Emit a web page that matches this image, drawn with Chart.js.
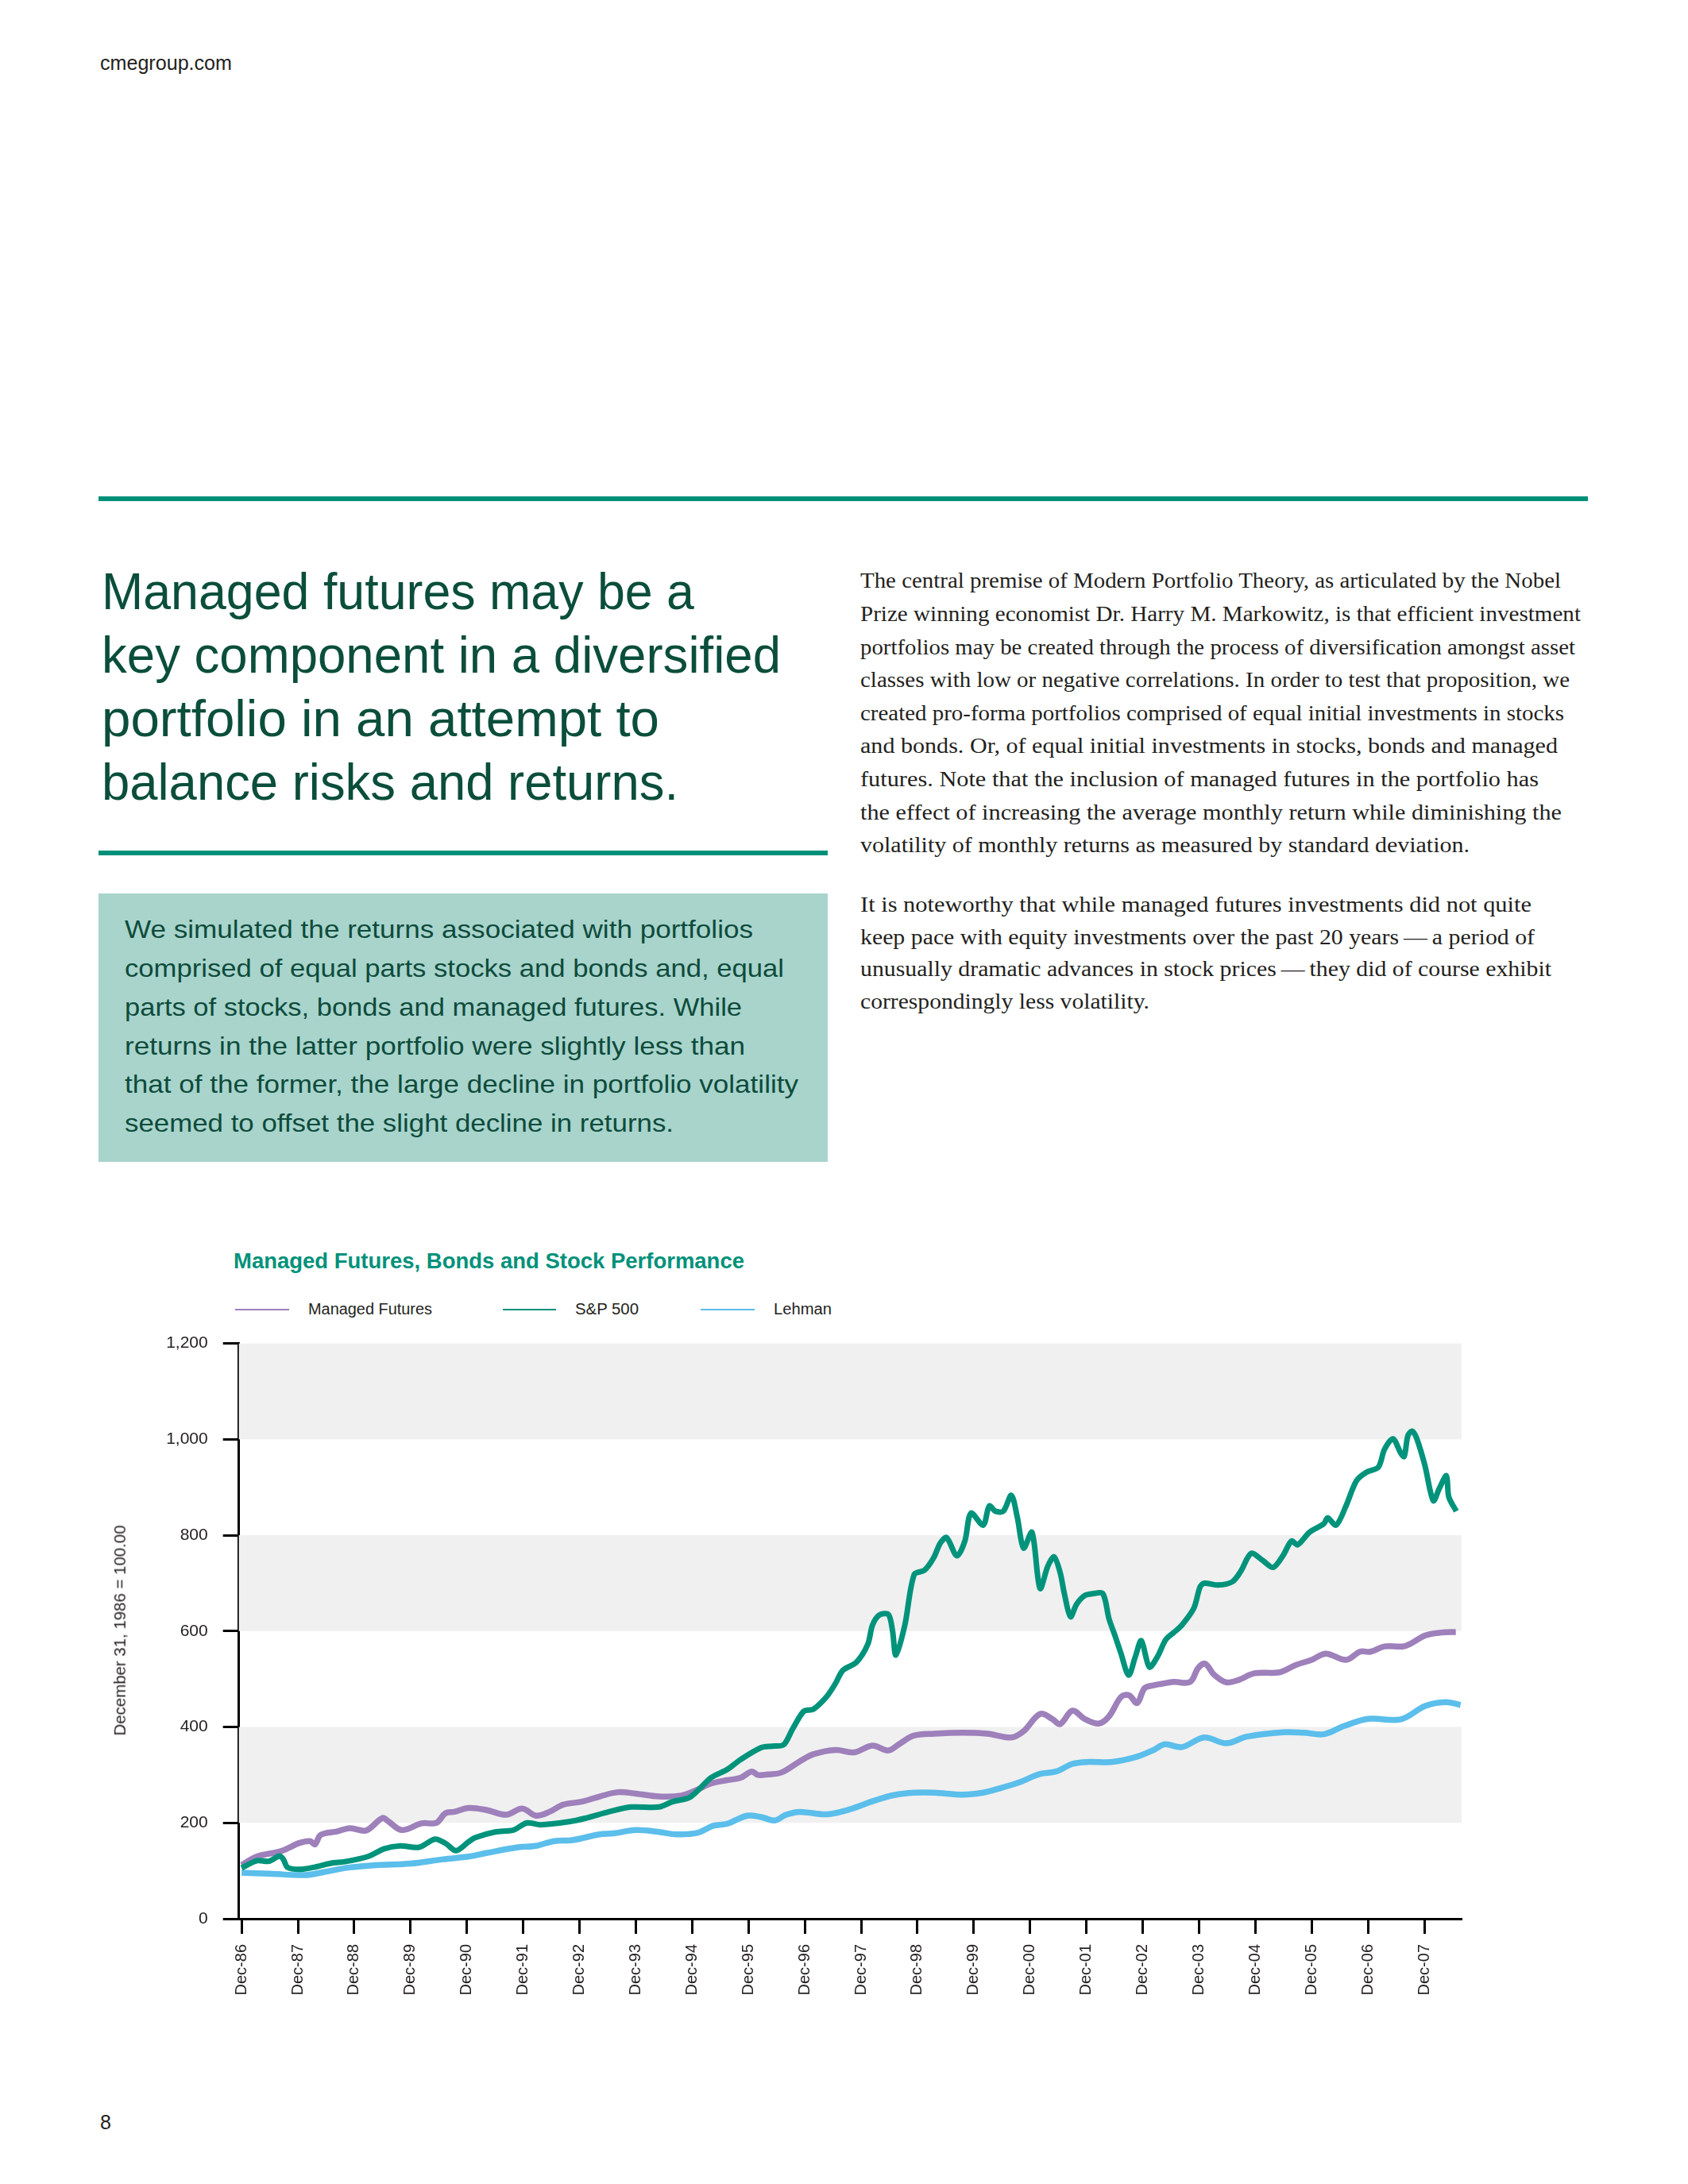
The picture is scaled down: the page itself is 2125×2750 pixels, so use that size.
<!DOCTYPE html>
<html>
<head>
<meta charset="utf-8">
<script src="https://cdn.jsdelivr.net/npm/chart.js@4.4.1/dist/chart.umd.min.js"></script>
<style>
  html, body { margin:0; padding:0; background:#fff; }
  body { width:2125px; height:2750px; position:relative; overflow:hidden; }
  .rule { position:absolute; background:#00907a; }
  #box { position:absolute; left:124px; top:1125px; width:918px; height:338px; background:#a8d4cc; }
  .leg { position:absolute; height:2px; }
  #chartWrap { position:absolute; left:0; top:1660px; width:1900px; height:900px; }
</style>
</head>
<body>
<div class="rule" style="left:124px; top:625px; width:1875px; height:6px;"></div>
<div class="rule" style="left:124px; top:1071px; width:918px; height:6px;"></div>
<div id="box"></div>
<div class="leg" style="left:296px; top:1648px; width:68px; background:#9b7fbd;"></div>
<div class="leg" style="left:633px; top:1648px; width:67px; background:#00917a;"></div>
<div class="leg" style="left:882px; top:1648px; width:68px; background:#5bbde8;"></div>
<div id="chartWrap"><canvas id="c" width="1900" height="900"></canvas></div>

<script>
// ---------------- DATA ----------------
// x positions: months after December 1986
const xTickLabels = ['Dec-86','Dec-87','Dec-88','Dec-89','Dec-90','Dec-91','Dec-92','Dec-93','Dec-94','Dec-95','Dec-96','Dec-97','Dec-98','Dec-99','Dec-00','Dec-01','Dec-02','Dec-03','Dec-04','Dec-05','Dec-06','Dec-07'];
const yTickLabels = ['0','200','400','600','800','1,000','1,200'];
const yTickValues = [0,200,400,600,800,1000,1200];

const seriesNames = ['Managed Futures','S&P 500','Lehman'];

const mfMonths = [0,3.3,8.4,12.3,14.6,15.6,16.9,20.3,23.1,26.5,30,31.3,34.1,38.4,41.5,43.4,45.3,48.4,52.1,56.4,59.8,62.7,65.6,68.5,72.4,76.3,80.2,84,88.9,93.7,96.6,100,103.4,106.3,108.7,110,112.1,115,118.9,121.8,126.6,130.5,134.4,137.8,140.2,143.2,147.6,153.7,158.9,164,166.6,170.1,172.7,174.4,177,179.6,182.6,184.8,187.4,189.1,190.8,192.4,194.3,196,198.6,202.1,203.8,205.3,207.2,209.8,212.4,215.8,221.1,224.5,228,231,235.3,238.3,240.5,243.5,247.9,252.2,255.6,258.7];
const mfValues = [112,130,141,158,162,155,175,182,189,184,210,203,185,199,200,220,223,231,227,217,230,215,223,238,244,255,264,261,255,257,267,282,289,294,307,300,301,305,328,343,352,347,361,351,365,382,386,388,386,378,391,427,417,406,434,417,407,422,463,466,450,481,487,490,494,494,523,532,509,493,498,512,514,529,540,553,540,557,557,568,569,591,597,598];

const spMonths = [0,3.3,5.8,8.1,8.9,9.8,12.3,15.2,19.1,22,27,30.4,33.8,37.8,41.2,43.5,45.7,48.3,49.7,54,57.9,60.8,63.7,69.5,73.4,78.2,83,88.9,91.8,95.6,100,103.4,106.3,110.7,113,115.5,117.4,119.8,121.8,124.7,126.6,128.1,131,133.4,134.4,135.8,137.8,138.7,139.4,141.3,143.3,145.5,147.4,148.9,150.2,152.4,154.1,155.4,158,159.3,160.6,162.3,164,165.3,166.6,168.4,170.1,171.8,173.1,174.4,175.3,176.6,177.9,179.6,181.3,183.5,184.8,186.1,187.3,189,190.4,191.7,193.4,195.1,196.9,198.6,200.3,202.9,204.2,205.1,208.1,211.1,212.9,215.1,217.6,219.8,221.9,223.7,225,227.5,230.6,231.4,233.2,235.3,237.5,239.6,242.2,243.5,245.3,247,247.7,248.5,249.4,250.4,252.1,253.9,255.2,256.7,257.2,258.8];
const spValues = [106,121,120,131,124,107,103,107,116,119,130,146,152,149,166,157,142,160,169,181,185,200,196,202,210,223,233,233,244,254,294,311,332,357,360,363,396,433,437,464,492,518,535,572,612,633,635,600,550,612,718,727,752,784,795,757,788,846,821,861,850,850,883,836,773,806,689,736,755,722,678,630,656,674,678,678,626,590,555,508,546,580,525,546,582,597,612,648,692,700,696,703,725,762,747,733,758,788,780,806,824,836,821,861,913,931,942,979,1001,971,964,1008,1017,1001,946,872,898,924,880,850];

const lbMonths = [0,6,13.5,17.4,23,28.7,36,42.9,48.6,52.1,58.9,62.7,66.6,70.5,76.3,79.2,84,88.9,92.7,97.1,100.5,103.4,107.7,110.7,113.6,116,118.9,124.7,129.5,134.4,139,143.3,147.6,153.7,158,161.5,165.8,170.1,173.5,177,180.5,185.6,190.8,194.3,196.7,200.3,205.1,209.8,214.2,221.9,226.3,230.6,234.9,240.1,247,252.2,256.5,259.7];
const lbValues = [96,94,91,97,107,112,115,124,130,137,149,152,162,164,176,178,185,181,176,179,194,198,215,212,205,217,223,218,228,245,258,263,263,259,263,272,285,302,307,323,327,327,338,352,364,358,378,366,380,389,388,385,402,417,416,444,452,446];

// ---------------- TEXT ----------------
const headlineLines = ['Managed futures may be a','key component in a diversified','portfolio in an attempt to','balance risks and returns.'];
const headlineWidths = [746,855,702,726];
const boxLines = ['We simulated the returns associated with portfolios','comprised of equal parts stocks and bonds and, equal','parts of stocks, bonds and managed futures. While','returns in the latter portfolio were slightly less than','that of the former, the large decline in portfolio volatility','seemed to offset the slight decline in returns.'];
const boxWidths = [791,830,777,781,848,691];
const para1 = ['The central premise of Modern Portfolio Theory, as articulated by the Nobel','Prize winning economist Dr. Harry M. Markowitz, is that efficient investment','portfolios may be created through the process of diversification amongst asset','classes with low or negative correlations. In order to test that proposition, we','created pro-forma portfolios comprised of equal initial investments in stocks','and bonds. Or, of equal initial investments in stocks, bonds and managed','futures. Note that the inclusion of managed futures in the portfolio has','the effect of increasing the average monthly return while diminishing the','volatility of monthly returns as measured by standard deviation.'];
const para1Widths = [882,907,900,893,886,878,854,883,767];
const para2 = ['It is noteworthy that while managed futures investments did not quite','keep pace with equity investments over the past 20 years\u2009\u2014\u2009a period of','unusually dramatic advances in stock prices\u2009\u2014\u2009they did of course exhibit','correspondingly less volatility.'];
const para2Widths = [845,849,870,364];

// ---------------- TEXT PLACEMENT ----------------
const SANS = 'Liberation Sans', SERIF = 'Liberation Serif';
function place(text, x, baseline, size, family, weight, color, target) {
  const asc = family === SERIF ? 0.8375 : 0.8465;
  const s = document.createElement('span');
  s.textContent = text;
  s.style.cssText = `position:absolute;left:${x}px;top:${baseline - asc*size}px;font-family:'${family}';font-weight:${weight};font-size:${size}px;line-height:${size}px;color:${color};white-space:nowrap;transform-origin:0 0;`;
  document.body.appendChild(s);
  if (target) {
    const w = s.getBoundingClientRect().width;
    s.style.transform = `scaleX(${target / w})`;
  }
  return s;
}

function layoutText() {
  place('cmegroup.com', 126, 88, 25, SANS, 400, '#231f20', 166);
  headlineLines.forEach((t, i) => place(t, 128, 766.7 + 80 * i, 64, SANS, 400, '#0a4e3b', headlineWidths[i]));
  boxLines.forEach((t, i) => place(t, 157, 1181.5 + 48.7 * i, 32, SANS, 400, '#0e4b3b', boxWidths[i]));
  para1.forEach((t, i) => place(t, 1083, 740.5 + 41.6 * i, 26.5, SERIF, 400, '#231f20', para1Widths[i]));
  para2.forEach((t, i) => place(t, 1083, 1148 + 40.8 * i, 26.5, SERIF, 400, '#231f20', para2Widths[i]));
  place('Managed Futures, Bonds and Stock Performance', 294, 1597.5, 27, SANS, 700, '#00917a', 643);
  place(seriesNames[0], 388, 1655, 20, SANS, 400, '#231f20', 156);
  place(seriesNames[1], 724, 1655, 20, SANS, 400, '#231f20', 80);
  place(seriesNames[2], 974, 1655, 20, SANS, 400, '#231f20', 73);
  place('8', 126, 2681, 25, SANS, 400, '#231f20', 0);
  // rotated y-axis title
  const t = document.createElement('span');
  t.textContent = 'December 31, 1986 = 100.00';
  t.style.cssText = `position:absolute;font-family:'${SANS}';font-size:20px;line-height:20px;color:#231f20;white-space:nowrap;`;
  document.body.appendChild(t);
  const w = t.getBoundingClientRect().width;
  t.style.left = (150.5 - w / 2) + 'px';
  t.style.top = (2052.8 - 10) + 'px';
  t.style.transformOrigin = '50% 50%';
  t.style.transform = `rotate(-90deg) scaleX(${265 / w})`;
}

// ---------------- CHART ----------------
const toPts = (xs, ys) => xs.map((x, i) => ({ x: x, y: ys[i] }));

const bandPlugin = {
  id: 'bands',
  beforeDatasetsDraw(chart) {
    const { ctx, chartArea, scales } = chart;
    const y = scales.y;
    ctx.save();
    ctx.fillStyle = '#f0f0f0';
    for (let i = 1; i < yTickValues.length; i += 2) {
      const top = y.getPixelForValue(yTickValues[i + 1] !== undefined ? yTickValues[i + 1] : yTickValues[i]);
      const bot = y.getPixelForValue(yTickValues[i]);
      ctx.fillRect(chartArea.left, top, chartArea.right - chartArea.left, bot - top);
    }
    ctx.restore();
  }
};

function drawChart() {
  Chart.defaults.font.family = SANS;
  Chart.defaults.color = '#231f20';
  new Chart(document.getElementById('c'), {
    type: 'line',
    data: {
      datasets: [
        { label: seriesNames[1], data: toPts(spMonths, spValues), borderColor: '#00937b', borderWidth: 7, tension: 0.3, pointRadius: 0, order: 0, borderJoinStyle: 'round' },
        { label: seriesNames[0], data: toPts(mfMonths, mfValues), borderColor: '#9e80bb', borderWidth: 7.5, tension: 0.35, pointRadius: 0, order: 1, borderJoinStyle: 'round' },
        { label: seriesNames[2], data: toPts(lbMonths, lbValues), borderColor: '#5bbeeb', borderWidth: 7.5, tension: 0.35, pointRadius: 0, order: 2, borderJoinStyle: 'round' }
      ]
    },
    options: {
      responsive: false,
      animation: false,
      devicePixelRatio: 1,
      layout: { padding: { left: 100.7, right: 60.2, top: 31.6, bottom: 0 } },
      plugins: { legend: { display: false }, tooltip: { enabled: false }, title: { display: false } },
      scales: {
        x: {
          type: 'linear',
          min: -0.58,
          max: 259.9,
          afterBuildTicks: (s) => { s.ticks = xTickLabels.map((_, i) => ({ value: i * 12 })); },
          afterFit: (s) => { s.height = 144; },
          ticks: {
            autoSkip: false,
            minRotation: 90,
            maxRotation: 90,
            padding: 13,
            font: { size: 20 },
            callback: (v) => xTickLabels[Math.round(v / 12)]
          },
          grid: { display: true, drawOnChartArea: false, drawTicks: true, tickLength: 19, color: '#000', lineWidth: 3 },
          border: { display: true, color: '#000', width: 3 }
        },
        y: {
          type: 'linear',
          min: 0,
          max: 1200,
          afterBuildTicks: (s) => { s.ticks = yTickValues.map(v => ({ value: v })); },
          afterFit: (s) => { s.width = 200; },
          ticks: {
            padding: 19,
            font: { size: 21 },
            callback: (v) => yTickLabels[yTickValues.indexOf(v)]
          },
          grid: { display: true, drawOnChartArea: false, drawTicks: true, tickLength: 20, color: '#000', lineWidth: 3 },
          border: { display: true, color: '#000', width: 3 }
        }
      }
    },
    plugins: [bandPlugin]
  });
}

(document.fonts && document.fonts.ready ? document.fonts.ready : Promise.resolve()).then(() => {
  layoutText();
  drawChart();
});
</script>
</body>
</html>
